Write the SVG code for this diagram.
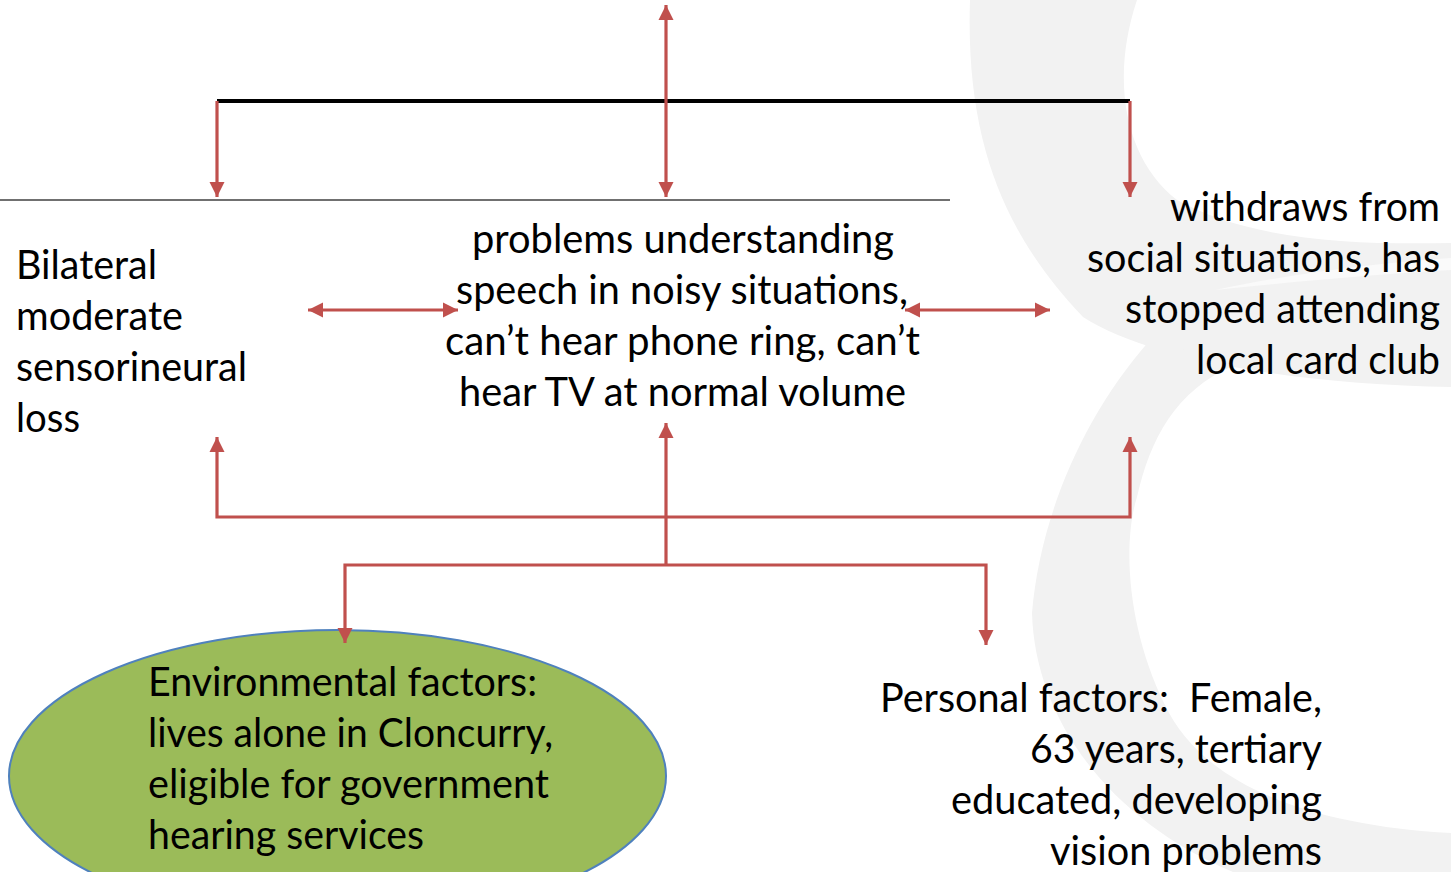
<svg xmlns="http://www.w3.org/2000/svg" width="1451" height="872" viewBox="0 0 1451 872">
<style>
.t{font-family:Lato,"Open Sans","Liberation Sans",sans-serif;font-size:40px;fill:#000}
.r{stroke:#c0504d;stroke-width:3.2;fill:none}
.bg{fill:#f2f2f2}
</style>
<defs>
<marker id="ah" viewBox="0 0 10 10" refX="10" refY="5" markerWidth="15" markerHeight="16" orient="auto-start-reverse" markerUnits="userSpaceOnUse">
<path d="M0,0 L10,5 L0,10 z" fill="#c0504d"/>
</marker>
</defs>
<rect width="1451" height="872" fill="#fff"/>
<g id="background">
<path class="bg" d="M970,0 C965,150 1010,240 1083,317 C1150,360 1300,385 1451,387 L1451,243 C1350,245 1250,240 1177,200 C1125,160 1110,80 1137,0 Z"/>
<path class="bg" d="M1451,833 C1300,825 1200,780 1165,705 C1128,630 1122,545 1137,497 C1150,440 1175,390 1235,365 L1150,340 C1080,420 1040,520 1032,613 C1035,720 1110,820 1233,872 L1451,872 Z"/>
<path d="M1215,290 C1300,272 1380,263 1451,258 L1451,270 C1380,274 1300,281 1215,290 Z" fill="#fafafa"/>
</g>
<line x1="0" y1="200" x2="950" y2="200" stroke="#404040" stroke-width="1.5"/>
<g id="impairment">
<text class="t" x="16" y="279" textLength="141" lengthAdjust="spacingAndGlyphs">Bilateral</text>
<text class="t" x="16" y="330" textLength="167" lengthAdjust="spacingAndGlyphs">moderate</text>
<text class="t" x="16" y="381" textLength="231" lengthAdjust="spacingAndGlyphs">sensorineural</text>
<text class="t" x="16" y="432" textLength="64" lengthAdjust="spacingAndGlyphs">loss</text>
</g>
<g id="activity">
<text class="t" x="472" y="253" textLength="422" lengthAdjust="spacingAndGlyphs">problems understanding</text>
<text class="t" x="456" y="304" textLength="452" lengthAdjust="spacingAndGlyphs">speech in noisy situations,</text>
<text class="t" x="445" y="355" textLength="475" lengthAdjust="spacingAndGlyphs">can’t hear phone ring, can’t</text>
<text class="t" x="459" y="406" textLength="447" lengthAdjust="spacingAndGlyphs">hear TV at normal volume</text>
</g>
<g id="participation">
<text class="t" x="1170" y="221" textLength="270" lengthAdjust="spacingAndGlyphs">withdraws from</text>
<text class="t" x="1087" y="272" textLength="353" lengthAdjust="spacingAndGlyphs">social situations, has</text>
<text class="t" x="1125" y="323" textLength="315" lengthAdjust="spacingAndGlyphs">stopped attending</text>
<text class="t" x="1196" y="374" textLength="244" lengthAdjust="spacingAndGlyphs">local card club</text>
</g>
<g id="environmental">
<ellipse cx="337.5" cy="776" rx="328.5" ry="146" fill="#9bbb59" stroke="#4f81bd" stroke-width="2"/>
<text class="t" x="148" y="696" textLength="389" lengthAdjust="spacingAndGlyphs">Environmental factors:</text>
<text class="t" x="148" y="747" textLength="405" lengthAdjust="spacingAndGlyphs">lives alone in Cloncurry,</text>
<text class="t" x="148" y="798" textLength="401" lengthAdjust="spacingAndGlyphs">eligible for government</text>
<text class="t" x="148" y="849" textLength="276" lengthAdjust="spacingAndGlyphs">hearing services</text>
</g>
<g id="personal">
<text class="t" x="880" y="712" textLength="442" lengthAdjust="spacingAndGlyphs" xml:space="preserve">Personal factors:  Female,</text>
<text class="t" x="1030" y="763" textLength="292" lengthAdjust="spacingAndGlyphs">63 years, tertiary</text>
<text class="t" x="951" y="814" textLength="371" lengthAdjust="spacingAndGlyphs">educated, developing</text>
<text class="t" x="1050" y="865" textLength="272" lengthAdjust="spacingAndGlyphs">vision problems</text>
</g>
<g id="connectors">
<line x1="217" y1="101" x2="1130" y2="101" stroke="#000" stroke-width="4"/>
<line class="r" x1="217" y1="101" x2="217" y2="197" marker-end="url(#ah)"/>
<line class="r" x1="666" y1="5" x2="666" y2="197" marker-start="url(#ah)" marker-end="url(#ah)"/>
<line class="r" x1="1130" y1="101" x2="1130" y2="197" marker-end="url(#ah)"/>
<line class="r" x1="308" y1="310" x2="458" y2="310" marker-start="url(#ah)" marker-end="url(#ah)"/>
<line class="r" x1="905" y1="310" x2="1050" y2="310" marker-start="url(#ah)" marker-end="url(#ah)"/>
<path class="r" d="M217,437 V517 H1130 V437" marker-start="url(#ah)" marker-end="url(#ah)"/>
<line class="r" x1="666" y1="565" x2="666" y2="423" marker-end="url(#ah)"/>
<path class="r" d="M345,643 V565 H986 V645" marker-start="url(#ah)" marker-end="url(#ah)"/>
</g>
</svg>
